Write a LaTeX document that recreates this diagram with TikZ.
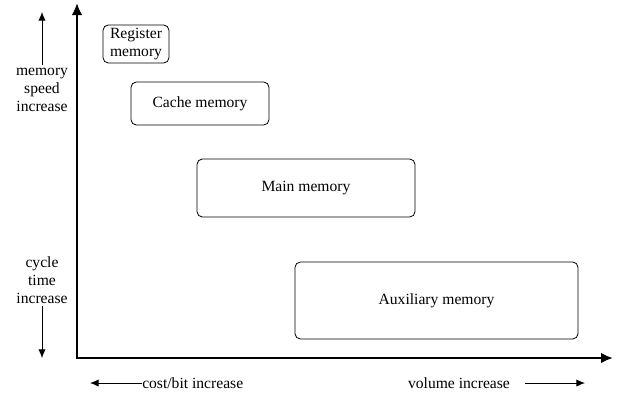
\documentclass[tikz,border=0pt]{standalone}
\usepackage{fontspec}
\setmainfont{Liberation Serif}
\usetikzlibrary{arrows.meta}

\begin{document}
\begin{tikzpicture}[x=0.75pt,y=-0.75pt,
  font=\fontsize{11.7}{13.4}\selectfont,
  membox/.style={draw,line width=0.6pt,rounded corners=4pt,align=center},
  note/.style={align=center,inner sep=2pt},
  arr/.style={-{Latex[length=6.5pt,width=5.5pt]},line width=0.7pt},
  axis/.style={{Latex[length=9pt,width=8pt]}-{Latex[length=9pt,width=8pt]},line width=2.1pt}]
  \useasboundingbox (0,0) rectangle (624,408);
  % axes
  \coordinate (ytop) at (77,3);
  \coordinate (origin) at (77,358);
  \coordinate (xend) at (613,358);
  \draw [axis](ytop)--(origin)--(xend);
  % memory levels
  \node (reg) at (136,44) [membox,minimum width=49.5pt,minimum height=28.5pt,inner sep=1pt]{Register\\memory};
  \node (cache) at (200,103.5) [membox,minimum width=103.5pt,minimum height=32.25pt]{Cache memory};
  \node (main) at (306,188) [membox,minimum width=163.5pt,minimum height=43.5pt]{Main memory};
  \node (aux) at (436.5,300.5) [membox,minimum width=212.25pt,minimum height=57.75pt]{Auxiliary memory};
  % side notes
  \node (speed) at (42,90) [note]{memory\\speed\\increase};
  \coordinate (speedtip) at (42,12);
  \draw [arr](speed.north)--(speedtip);
  \node (cycle) at (42,280) [note]{cycle\\time\\increase};
  \coordinate (cycletip) at (42,358);
  \draw [arr](cycle.south)--(cycletip);
  \node (cost) at (142,383) [anchor=west,inner sep=0pt]{cost/bit increase};
  \coordinate (costtip) at (90,383);
  \draw [arr](cost.west)--(costtip);
  \node (vol) at (459,383) [inner sep=0pt]{volume increase};
  \coordinate (voltip) at (585,383);
  \draw [arr,shorten <=11pt](vol.east)--(voltip);
\end{tikzpicture}
\end{document}
